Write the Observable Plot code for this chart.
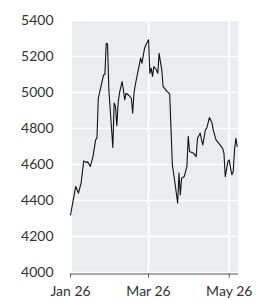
<!DOCTYPE html>
<html>
<head>
<meta charset="utf-8">
<script src="https://cdn.jsdelivr.net/npm/d3@7"></script>
<script src="https://cdn.jsdelivr.net/npm/@observablehq/plot@0.6"></script>
<style>
  html, body { margin: 0; padding: 0; background: #fff; }
  #chart svg { display: block; }
</style>
</head>
<body>
<div id="chart"></div>
<script>
const startDate = "2021-01-26";
const dayOffsets = [0,4,6,8,10,12,13,15,17,19,20,21,23,25,26,27,28,29,32,33,34,35,36,37,39,40,41,42,44,46,47,48,49,52,53,54,56,57,59,60,61,62,63,65,66,67,68,69,70,73,75,77,79,81,82,83,84,86,88,89,90,93,95,96,98,99,100,102,103,105,107,108,110,112,115,116,117,119,120,121,122,123,124,125,126];
const values = [4320,4478,4441,4496,4620,4611,4615,4589,4644,4737,4746,4968,5033,5098,5100,5274,5270,5015,4694,4941,4922,4815,4941,4996,5061,5015,4959,4996,4985,4968,4885,4996,5043,5154,5191,5163,5246,5265,5293,5107,5135,5089,5144,5125,5107,5218,5170,5126,5033,5006,4991,4598,4496,4385,4552,4431,4524,4533,4589,4756,4672,4663,4644,4746,4774,4740,4709,4793,4802,4861,4830,4790,4737,4719,4690,4663,4533,4617,4626,4580,4543,4561,4681,4746,4700];
const yTicks = [4000,4200,4400,4600,4800,5000,5200,5400];
const xTickLabels = ["2021-01-26","2021-03-26","2021-05-26"];
const xDomainEnd = "2021-06-02";

const parse = d3.utcParse("%Y-%m-%d");
const base = parse(startDate);
const data = dayOffsets.map((d, i) => ({date: d3.utcDay.offset(base, d), value: values[i]}));
const xTicks = xTickLabels.map(parse);

const chart = Plot.plot({
  width: 267,
  height: 300,
  marginLeft: 70,
  marginRight: 29,
  marginTop: 20,
  marginBottom: 28,
  style: {fontFamily: "Lato, sans-serif", fontSize: "14px", color: "#333", background: "#fff"},
  x: {type: "utc", domain: [base, parse(xDomainEnd)]},
  y: {domain: [4000, 5400]},
  marks: [
    Plot.frame({fill: "#ebecf0", stroke: null, insetLeft: 1.5}),
    Plot.gridY(yTicks, {stroke: "#fff", strokeOpacity: 1, strokeWidth: 1.6}),
    Plot.gridX(xTicks.slice(1), {stroke: "#fff", strokeOpacity: 1, strokeWidth: 1.8}),
    Plot.axisY(yTicks, {tickSize: 0, tickPadding: 17, fontSize: 14, label: null, fill: "#333", tickFormat: d3.format("d")}),
    Plot.axisX(xTicks, {tickSize: 4, tickPadding: 8, fontSize: 14, label: null, tickFormat: d3.utcFormat("%b %d"), stroke: "#555", fill: "#333", dy: 1.5}),
    Plot.ruleY([4000], {stroke: "#555", strokeWidth: 1, dy: 1.5}),
    Plot.lineY(data, {x: "date", y: "value", stroke: "#111", strokeWidth: 1.1})
  ]
});
document.getElementById("chart").appendChild(chart);
</script>
</body>
</html>
